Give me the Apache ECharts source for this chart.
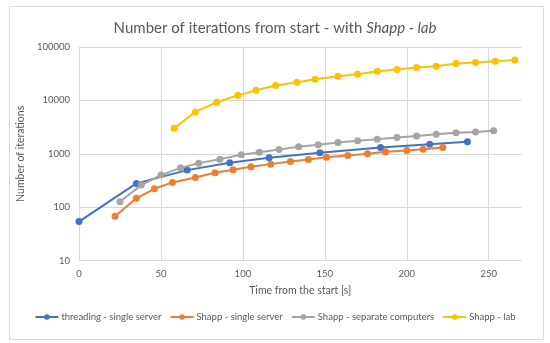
<!DOCTYPE html>
<html>
<head>
<meta charset="utf-8">
<script src="https://cdn.jsdelivr.net/npm/echarts@6/dist/echarts.min.js"></script>
<style>
html,body{margin:0;padding:0;background:#fff;}
#chart{width:550px;height:343px;}
</style>
</head>
<body>
<div id="chart"></div>
<script>
// ---- data ----
const seriesNames = ['threading - single server', 'Shapp - single server', 'Shapp - separate computers', 'Shapp - lab'];

const threadX = [0, 35, 66, 92, 116, 147, 184, 214, 237];
const threadY = [54, 280, 496, 680, 842, 1045, 1320, 1520, 1680];

const singleX = [22, 35, 46, 57, 71, 83, 94, 105, 117, 129, 140, 151, 164, 176, 187, 200, 210, 222];
const singleY = [68, 147, 222, 292, 362, 441, 502, 571, 642, 721, 786, 867, 933, 1000, 1090, 1157, 1224, 1318];

const separateX = [25, 38, 50, 62, 73, 86, 99, 110, 122, 134, 146, 158, 170, 182, 194, 206, 218, 230, 242, 253];
const separateY = [127, 260, 400, 547, 670, 796, 958, 1076, 1208, 1352, 1473, 1634, 1750, 1884, 2027, 2168, 2334, 2471, 2577, 2692];

const labX = [58, 71, 84, 97, 108, 120, 133, 144, 158, 170, 182, 194, 206, 218, 230, 242, 254, 266];
const labY = [3020, 6100, 9250, 12500, 15500, 19000, 21900, 24900, 28300, 30900, 35100, 37800, 41200, 43600, 49000, 51100, 54100, 57200];

const xTicks = [0, 50, 100, 150, 200, 250];
const yTicks = [10, 100, 1000, 10000, 100000];

const colors = ['#4472C4', '#ED7D31', '#A5A5A5', '#FFC000'];
const FONT = 'Lato';
const TXT = '#595959';
const GRID = '#d9d9d9';

function pairs(xs, ys) { return xs.map((x, i) => [x, ys[i]]); }
const allData = [pairs(threadX, threadY), pairs(singleX, singleY), pairs(separateX, separateY), pairs(labX, labY)];

const chart = echarts.init(document.getElementById('chart'), null, {renderer: 'canvas'});
chart.setOption({
  animation: false,
  backgroundColor: '#fff',
  color: colors,
  textStyle: {fontFamily: FONT, color: TXT},
  graphic: [{
    type: 'rect', left: 7, top: 4,
    shape: {width: 534, height: 333},
    style: {fill: 'none', stroke: GRID, lineWidth: 1},
    silent: true
  }],
  title: {
    text: '{n|Number of iterations from start - with }{i|Shapp - lab}',
    left: 'center', top: 16,
    textStyle: {
      fontWeight: 'normal',
      rich: {
        n: {fontFamily: FONT, fontSize: 15, color: TXT, fontWeight: 'normal'},
        i: {fontFamily: FONT, fontSize: 15, color: TXT, fontStyle: 'italic', fontWeight: 'normal'}
      }
    }
  },
  legend: {
    data: seriesNames,
    bottom: 16, left: 'center',
    itemWidth: 23, itemHeight: 7, itemGap: 8,
    textStyle: {fontFamily: FONT, fontSize: 9.5, color: TXT, padding: [0, 0, 0, -2]}
  },
  grid: {left: 79, right: 28.5, top: 47, bottom: 82.3, containLabel: false},
  xAxis: {
    type: 'value', min: 0, max: 270, interval: 50,
    name: 'Time from the start [s]', nameLocation: 'middle', nameGap: 24,
    nameTextStyle: {fontFamily: FONT, fontSize: 10.5, color: TXT},
    axisLine: {show: true, lineStyle: {color: GRID, width: 1}},
    axisTick: {show: false},
    axisLabel: {
      fontFamily: FONT, fontSize: 9.5, color: TXT, margin: 8,
      formatter: v => (xTicks.indexOf(v) >= 0 ? String(v) : '')
    },
    splitLine: {show: true, showMaxLine: false, lineStyle: {color: GRID, width: 1}}
  },
  yAxis: {
    type: 'log', logBase: 10, min: yTicks[0], max: yTicks[yTicks.length - 1],
    name: 'Number of iterations', nameLocation: 'middle', nameGap: 43, nameRotate: 90,
    nameTextStyle: {fontFamily: FONT, fontSize: 10.5, color: TXT},
    axisLine: {show: true, lineStyle: {color: GRID, width: 1}},
    axisTick: {show: false},
    axisLabel: {fontFamily: FONT, fontSize: 9.5, color: TXT, margin: 9, formatter: v => String(Math.round(v))},
    splitLine: {show: true, lineStyle: {color: GRID, width: 1}}
  },
  series: seriesNames.map((name, i) => ({
    name: name, type: 'line', data: allData[i],
    symbol: 'circle', symbolSize: 7, showSymbol: true,
    lineStyle: {width: 2, color: colors[i]},
    itemStyle: {color: colors[i]},
    z: 2 + i
  }))
});
</script>
</body>
</html>
